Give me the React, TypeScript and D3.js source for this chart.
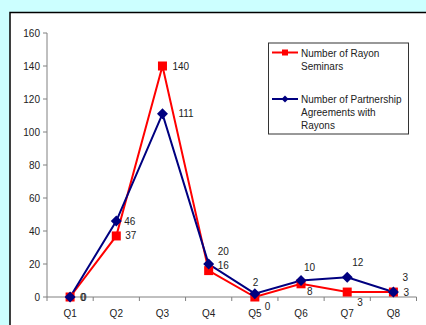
import React from "react";
import * as d3 from "d3";

// Quarterly counts
const quarters = ["Q1", "Q2", "Q3", "Q4", "Q5", "Q6", "Q7", "Q8"];
const rayonSeminars = [0, 37, 140, 16, 0, 8, 3, 3];
const partnershipAgreements = [0, 46, 111, 20, 2, 10, 12, 3];
const yTicks = [0, 20, 40, 60, 80, 100, 120, 140, 160];

// Hand-placed label offsets (dx, dy) relative to each point
const seminarLabelOffsets: [number, number][] = [
  [10, 0], [9, 0], [10, 0], [9, -5], [10, 9], [6, 8], [10, 10], [10, 0],
];
const agreementLabelOffsets: [number, number][] = [
  [11, 0], [8, 0], [16, 0], [9, -13], [-2, -11], [3, -13], [5, -14.5], [9, -15],
];

const W = 426;
const H = 325;
const FONT = "'Liberation Sans', Arial, sans-serif";
const RED = "#FF0000";
const NAVY = "#000080";

export default function App() {
  const x = d3.scaleBand<string>().domain(quarters).range([47, 416.5]).padding(0);
  const y = d3.scaleLinear().domain([0, 160]).range([297, 33]);
  const cx = (q: string) => (x(q) as number) + x.bandwidth() / 2;

  const line = d3
    .line<number>()
    .x((_, i) => cx(quarters[i]))
    .y((d) => y(d));

  const diamond = (px: number, py: number, r: number) =>
    `M${px},${py - r}L${px + r},${py}L${px},${py + r}L${px - r},${py}Z`;

  const boundaries = quarters.map((q) => x(q) as number).concat([x.range()[1]]);

  return (
    <svg
      width={W}
      height={H}
      style={{ position: "absolute", left: 0, top: 0, display: "block" }}
      fontFamily={FONT}
    >
      <rect x={0} y={0} width={W} height={H} fill="#CCFFFF" />
      {/* chart area frame */}
      <rect x={10} y={12.5} width={W + 10} height={H} fill="#FFFFFF" stroke="#000" strokeWidth={1.5} />

      {/* y axis */}
      <line x1={47} x2={47} y1={y(160)} y2={y(0)} stroke="#808080" strokeWidth={1} />
      {yTicks.map((t) => (
        <g key={t}>
          <line x1={43} x2={47} y1={y(t)} y2={y(t)} stroke="#808080" />
          <text x={40} y={y(t)} dy="0.35em" textAnchor="end" fontSize={10} fill="#222">
            {t}
          </text>
        </g>
      ))}

      {/* x axis */}
      <line x1={47} x2={x.range()[1]} y1={y(0)} y2={y(0)} stroke="#808080" />
      {boundaries.map((b, i) => (
        <line key={i} x1={b} x2={b} y1={y(0)} y2={y(0) + 4} stroke="#808080" />
      ))}
      {quarters.map((q) => (
        <text key={q} x={cx(q)} y={313} dy="0.35em" textAnchor="middle" fontSize={10} fill="#222">
          {q}
        </text>
      ))}

      {/* series lines */}
      <path d={line(rayonSeminars) as string} fill="none" stroke={RED} strokeWidth={2} />
      <path d={line(partnershipAgreements) as string} fill="none" stroke={NAVY} strokeWidth={2} />

      {/* markers */}
      {rayonSeminars.map((v, i) => (
        <rect key={"s" + i} x={cx(quarters[i]) - 4.5} y={y(v) - 4.5} width={9} height={9} fill={RED} />
      ))}
      {partnershipAgreements.map((v, i) => (
        <path key={"d" + i} d={diamond(cx(quarters[i]), y(v), 5.5)} fill={NAVY} />
      ))}

      {/* value labels */}
      {rayonSeminars.map((v, i) => (
        <text
          key={"ls" + i}
          x={cx(quarters[i]) + seminarLabelOffsets[i][0]}
          y={y(v) + seminarLabelOffsets[i][1]}
          dy="0.35em"
          fontSize={10}
          fill="#222"
        >
          {v}
        </text>
      ))}
      {partnershipAgreements.map((v, i) => (
        <text
          key={"la" + i}
          x={cx(quarters[i]) + agreementLabelOffsets[i][0]}
          y={y(v) + agreementLabelOffsets[i][1]}
          dy="0.35em"
          fontSize={10}
          fill="#222"
        >
          {v}
        </text>
      ))}

      {/* legend */}
      <g>
        <rect x={268.5} y={43} width={140} height={91} fill="#FFFFFF" stroke="#333" strokeWidth={1} />
        <line x1={272} x2={298} y1={52.5} y2={52.5} stroke={RED} strokeWidth={2} />
        <rect x={282} y={49.5} width={6} height={6} fill={RED} />
        <text x={301} y={53} dy="0.35em" fontSize={10} fill="#222">Number of Rayon</text>
        <text x={301} y={66} dy="0.35em" fontSize={10} fill="#222">Seminars</text>

        <line x1={272} x2={298} y1={99} y2={99} stroke={NAVY} strokeWidth={2} />
        <path d={diamond(285, 99, 3.5)} fill={NAVY} />
        <text x={301} y={99} dy="0.35em" fontSize={10} fill="#222">Number of Partnership</text>
        <text x={301} y={112.5} dy="0.35em" fontSize={10} fill="#222">Agreements with</text>
        <text x={301} y={125.5} dy="0.35em" fontSize={10} fill="#222">Rayons</text>
      </g>
    </svg>
  );
}
